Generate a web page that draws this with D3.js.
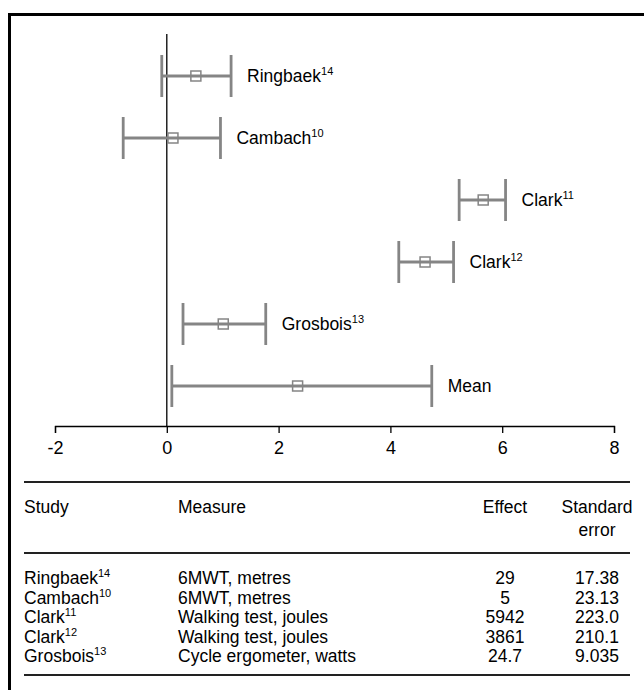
<!DOCTYPE html>
<html>
<head>
<meta charset="utf-8">
<script src="https://cdn.jsdelivr.net/npm/d3@7"></script>
<style>
  html, body { margin: 0; padding: 0; background: #fff; }
  svg { display: block; font-family: "Liberation Sans", Arial, Helvetica, sans-serif; }
</style>
</head>
<body>
<svg id="chart" width="644" height="690"></svg>
<script>
// ---- Data ----
const studies = ["Ringbaek", "Cambach", "Clark", "Clark", "Grosbois", "Mean"];
const refs = ["14", "10", "11", "12", "13", ""];
const effects = [0.52, 0.11, 5.66, 4.62, 1.01, 2.34];
const lowers = [-0.09, -0.78, 5.23, 4.15, 0.29, 0.09];
const uppers = [1.15, 0.96, 6.06, 5.13, 1.77, 4.74];
const xTicks = [-2, 0, 2, 4, 6, 8];

const tableHeaders = ["Study", "Measure", "Effect", "Standard|error"];
const tableStudy = ["Ringbaek", "Cambach", "Clark", "Clark", "Grosbois"];
const tableRefs = ["14", "10", "11", "12", "13"];
const tableMeasure = ["6MWT, metres", "6MWT, metres", "Walking test, joules", "Walking test, joules", "Cycle ergometer, watts"];
const tableEffect = ["29", "5", "5942", "3861", "24.7"];
const tableSE = ["17.38", "23.13", "223.0", "210.1", "9.035"];

// ---- Layout ----
const svg = d3.select("#chart");
const gray = "#858585";

// frame (left & top edges visible, continues beyond the page)
svg.append("rect")
  .attr("x", 9.5).attr("y", 14.5)
  .attr("width", 700).attr("height", 700)
  .attr("fill", "none").attr("stroke", "#000").attr("stroke-width", 3);

const x = d3.scaleLinear().domain([-2, 8]).range([55, 614]);
const y = d3.scalePoint().domain(d3.range(studies.length)).range([76, 386]);
const axisY = 426;

// zero line
svg.append("line")
  .attr("x1", x(0)).attr("x2", x(0))
  .attr("y1", 34).attr("y2", axisY)
  .attr("stroke", "#000").attr("stroke-width", 1.3);

// axis
const axis = d3.axisBottom(x).tickValues(xTicks).tickSize(7).tickSizeOuter(7)
  .tickPadding(8).tickFormat(d => String(d));
const gAxis = svg.append("g").attr("transform", `translate(0,${axisY})`).call(axis);
gAxis.selectAll("path, line").attr("stroke", "#000").attr("stroke-width", 1.3);
gAxis.selectAll("text").attr("font-size", 18).attr("fill", "#000")
  .attr("font-family", "Liberation Sans, Arial, sans-serif");

// error bars
const capH = 21;
const rows = svg.append("g").selectAll("g").data(studies).join("g");
rows.append("line")
  .attr("x1", (d, i) => x(lowers[i])).attr("x2", (d, i) => x(uppers[i]))
  .attr("y1", (d, i) => y(i)).attr("y2", (d, i) => y(i))
  .attr("stroke", gray).attr("stroke-width", 2.8);
rows.append("line")
  .attr("x1", (d, i) => x(lowers[i])).attr("x2", (d, i) => x(lowers[i]))
  .attr("y1", (d, i) => y(i) - capH).attr("y2", (d, i) => y(i) + capH)
  .attr("stroke", gray).attr("stroke-width", 2.8);
rows.append("line")
  .attr("x1", (d, i) => x(uppers[i])).attr("x2", (d, i) => x(uppers[i]))
  .attr("y1", (d, i) => y(i) - capH).attr("y2", (d, i) => y(i) + capH)
  .attr("stroke", gray).attr("stroke-width", 2.8);
rows.append("rect")
  .attr("x", (d, i) => x(effects[i]) - 5).attr("y", (d, i) => y(i) - 5)
  .attr("width", 10).attr("height", 10)
  .attr("fill", "none").attr("stroke", gray).attr("stroke-width", 1.5);
const lbl = rows.append("text")
  .attr("x", (d, i) => x(uppers[i]) + 16).attr("y", (d, i) => y(i) + 6)
  .attr("font-size", 17.5).attr("fill", "#000");
lbl.append("tspan").text(d => d);
lbl.append("tspan").attr("font-size", 11).attr("dy", -7).text((d, i) => refs[i]);

// ---- Table ----
const colX = { study: 24, measure: 178, effect: 505, se: 597 };
const tFont = 17.5;
svg.append("line").attr("x1", 24).attr("x2", 630).attr("y1", 482).attr("y2", 482)
  .attr("stroke", "#222").attr("stroke-width", 2);
svg.append("line").attr("x1", 24).attr("x2", 630).attr("y1", 553).attr("y2", 553)
  .attr("stroke", "#222").attr("stroke-width", 2);
svg.append("line").attr("x1", 24).attr("x2", 630).attr("y1", 675).attr("y2", 675)
  .attr("stroke", "#222").attr("stroke-width", 2);

const head = svg.append("g").attr("font-size", tFont).attr("fill", "#000");
const headX = [colX.study, colX.measure, colX.effect, colX.se];
const headAnchor = ["start", "start", "middle", "middle"];
tableHeaders.forEach((h, i) => {
  h.split("|").forEach((line, j) => {
    head.append("text").attr("x", headX[i]).attr("y", 513 + j * 23)
      .attr("text-anchor", headAnchor[i]).text(line);
  });
});

const rowY = d3.scalePoint().domain(d3.range(tableStudy.length)).range([584, 662]);
const tb = svg.append("g").attr("font-size", tFont).attr("fill", "#000");
tableStudy.forEach((s, i) => {
  const t = tb.append("text").attr("x", colX.study).attr("y", rowY(i));
  t.append("tspan").text(s);
  t.append("tspan").attr("font-size", 11).attr("dy", -7).text(tableRefs[i]);
  tb.append("text").attr("x", colX.measure).attr("y", rowY(i)).text(tableMeasure[i]);
  tb.append("text").attr("x", colX.effect).attr("y", rowY(i)).attr("text-anchor", "middle").text(tableEffect[i]);
  tb.append("text").attr("x", colX.se).attr("y", rowY(i)).attr("text-anchor", "middle").text(tableSE[i]);
});
</script>
</body>
</html>
